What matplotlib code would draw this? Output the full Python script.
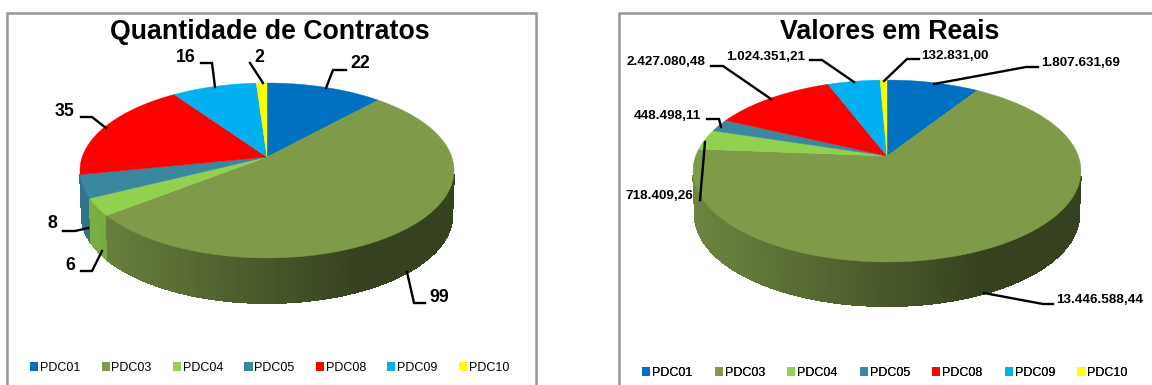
import numpy as np
import matplotlib
matplotlib.use("Agg")
import matplotlib.pyplot as plt
from matplotlib.patches import Polygon, Patch, Rectangle

plt.rcParams["font.family"] = ["Liberation Sans", "DejaVu Sans"]

# ---------------------------------------------------------------------------
# Data
# ---------------------------------------------------------------------------

categories = ["PDC01", "PDC03", "PDC04", "PDC05", "PDC08", "PDC09", "PDC10"]
colors = ["#0070C0", "#7F9B4A", "#92D050", "#3A87A0", "#FF0000", "#00B0F0", "#FFFF00"]

contratos = [22, 99, 6, 8, 35, 16, 2]
reais = [1807631.69, 13446588.44, 718409.26, 448498.11, 2427080.48, 1024351.21, 132831.00]

# leader lines and label centres, in picture pixels
contratos_text = [(360, 63), (439, 297), (70, 265), (52, 224), (65, 111), (186, 57), (259, 57)]
contratos_lead = [
    [(326, 88), (333, 70), (346, 70)],
    [(407, 272), (414, 303), (425, 303)],
    [(102, 251), (92, 271), (81, 271)],
    [(88, 228), (75, 231), (63, 231)],
    [(106, 128), (92, 117), (81, 117)],
    [(215, 87), (212, 63), (201, 63)],
    [(263, 83), (250, 63)],
]
reais_text = [(1081, 63), (1100, 300), (659, 196), (667, 116), (666, 62), (766, 57), (955, 56)]
reais_lead = [
    [(934, 84), (1026, 67), (1038, 67)],
    [(984, 293), (1043, 304), (1053, 304)],
    [(705, 142), (700, 200)],
    [(721, 127), (719, 119), (707, 119)],
    [(771, 99), (723, 66), (711, 66)],
    [(854, 82), (822, 60), (810, 60)],
    [(884, 81), (907, 59), (919, 59)],
]


def fmt_int(v):
    return str(v)


def fmt_brl(v):
    return f"{v:,.2f}".replace(",", "#").replace(".", ",").replace("#", ".")


# ---------------------------------------------------------------------------
# Helpers
# ---------------------------------------------------------------------------

def project(theta, a, b, k):
    """Perspective view of the unit circle, theta clockwise from the top."""
    u, v = np.sin(theta), np.cos(theta)
    w = 1 + k * v
    return a * u / w, -b * v / w


def side_shade(n):
    # light on the left of the rim, dark from about two thirds across
    return np.interp(n, [-1, 0.5, 1], [0.86, 0.42, 0.42])


def draw_pie(ax, values, cx, cy, a, b, k, depth):
    fracs = np.array(values) / sum(values)
    edges = np.concatenate([[0], np.cumsum(fracs)]) * 2 * np.pi
    half = a / np.sqrt(1 - k * k)

    # rim first, thin strips so the shading runs across it, far ones underneath
    strips = []
    for i, col in enumerate(colors):
        n = max(int(np.degrees(edges[i + 1] - edges[i])), 2)
        th = np.linspace(edges[i], edges[i + 1], n + 1)
        x, y = project(th, a, b, k)
        rgb = np.array(matplotlib.colors.to_rgb(col))
        for j in range(n):
            # the back of the rim is hidden by the top face anyway
            if np.cos((th[j] + th[j + 1]) / 2) > -(k + 0.05):
                continue
            xs = [x[j], x[j + 1], x[j + 1] * 0.99, x[j] * 0.99]
            ys = [y[j], y[j + 1], y[j + 1] + depth, y[j] + depth]
            pts = np.column_stack([cx + np.array(xs), cy + np.array(ys)])
            shade = side_shade((x[j] + x[j + 1]) / (2 * half))
            strips.append((y[j] + y[j + 1], pts, rgb * shade))
    strips.sort(key=lambda s: s[0])
    for _, pts, c in strips:
        ax.add_patch(Polygon(pts, fc=c, ec=c, lw=0.8, antialiased=False, zorder=2))

    # top face
    for i, col in enumerate(colors):
        th = np.linspace(edges[i], edges[i + 1], 120)
        x, y = project(th, a, b, k)
        pts = np.column_stack([cx + np.r_[0, x], cy + np.r_[0, y]])
        ax.add_patch(Polygon(pts, fc=col, ec=col, lw=0.3, zorder=3))


def draw_labels(ax, values, formatter, text_pos, leaders, fontsize):
    for v, (tx, ty), lead in zip(values, text_pos, leaders):
        ax.text(tx, ty, formatter(v), fontsize=fontsize, fontweight="bold",
                ha="center", va="center", color="black", zorder=6)
        xs, ys = zip(*lead)
        ax.plot(xs, ys, color="black", lw=1.7, solid_joinstyle="miter", zorder=5)


def draw_legend(ax, x, y, spacing):
    handles = [Patch(fc=c, ec=c, lw=0) for c in colors]
    leg = ax.legend(handles, categories, ncol=7, frameon=False, fontsize=9,
                    loc="center left", bbox_to_anchor=(x, y),
                    bbox_transform=ax.transData,
                    handlelength=0.65, handleheight=0.7, handletextpad=0.15,
                    columnspacing=spacing, borderpad=0, borderaxespad=0)
    ax.add_artist(leg)


# ---------------------------------------------------------------------------
# Figure
# ---------------------------------------------------------------------------

fig = plt.figure(figsize=(11.52, 3.85), dpi=100)
ax = fig.add_axes([0, 0, 1, 1])
ax.set_xlim(0, 1152)
ax.set_ylim(385, 0)
ax.axis("off")

ax.add_patch(Rectangle((7, 13), 529, 380, fc="white", ec="#979797", lw=1.8, zorder=1))
ax.add_patch(Rectangle((619, 13), 560, 380, fc="white", ec="#979797", lw=1.8, zorder=1))

ax.text(269.5, 32, "Quantidade de Contratos", fontsize=19.3, fontweight="bold",
        ha="center", va="center", zorder=6)
ax.text(890, 32, "Valores em Reais", fontsize=19.3, fontweight="bold",
        ha="center", va="center", zorder=6)

draw_pie(ax, contratos, 267, 157, 184.8, 85.4, 0.154, 45)
draw_pie(ax, reais, 887, 156, 191.3, 88.5, 0.165, 44)

draw_labels(ax, contratos, fmt_int, contratos_text, contratos_lead, 12.8)
draw_labels(ax, reais, fmt_brl, reais_text, reais_lead, 9.7)

draw_legend(ax, 30, 368, 1.69)
draw_legend(ax, 642, 373, 1.78)

fig.savefig("out.png", dpi=100)
